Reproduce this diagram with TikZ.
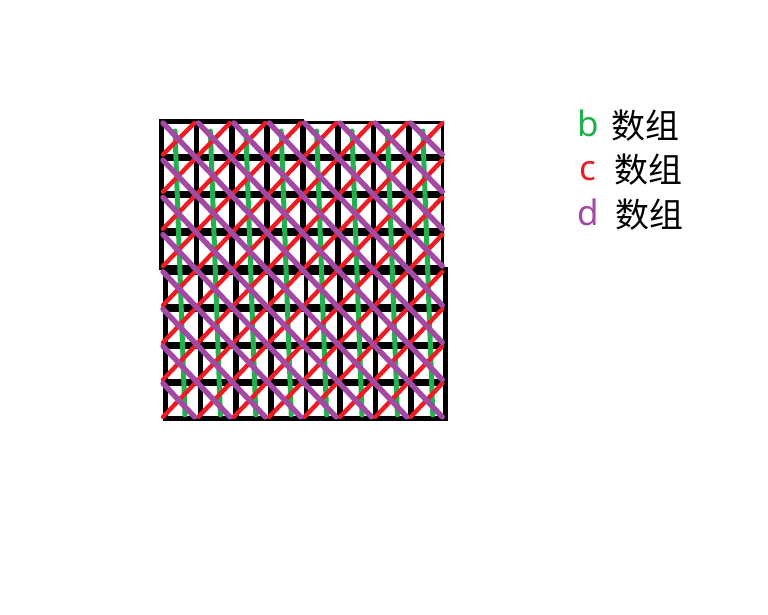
\documentclass[tikz,border=0pt]{standalone}
\usepackage{fontspec}
\newfontfamily\cjk{Noto Sans CJK SC}
\newfontfamily\lat{Noto Sans}
\definecolor{pgreen}{RGB}{34,177,76}
\definecolor{pred}{RGB}{237,28,36}
\definecolor{ppurple}{RGB}{163,73,164}
\begin{document}
\begin{tikzpicture}[x=1pt,y=-1pt,
  cellbox/.style={fill=white},
  greenline/.style={draw=pgreen,line width=5pt,line cap=round},
  redline/.style={draw=pred,line width=4.4pt,line cap=round},
  purpleline/.style={draw=ppurple,line width=5.4pt,line cap=round},
  lettertext/.style={anchor=base west,inner sep=0pt,font=\lat\fontsize{35}{35}\selectfont},
  cjktext/.style={anchor=base west,inner sep=0pt,font=\cjk\fontsize{34}{34}\selectfont,text=black}]
\useasboundingbox (0,0) rectangle (768,614);
\fill[white] (0,0) rectangle (768,614);
% black blocks of the hand-drawn grid
\fill[black] (159,119) rectangle (304,270);
\fill[black] (301,121) rectangle (444,268);
\fill[black] (163,268) rectangle (307,421);
\fill[black] (303,267) rectangle (448,421);
% white cells
\foreach \r in {0,...,7}{
  \foreach \c in {0,...,7}{
    \pgfmathsetmacro\dx{(\r>3)*(\c<4)*4+(\r>3)*(\c>3)*2}
    \pgfmathsetmacro\dy{(\r>3)*2}
    \fill[cellbox] ({164+35.4*\c+\dx},{124+37.2*\r+\dy}) rectangle ++(29.5,29.5);
  }
}
% green: columns
\foreach \c in {0,...,7}{
  \draw[greenline] ({164+35.4*\c+11},131) -- ({164+35.4*\c+21},415);
}
% red: anti-diagonals
\foreach \k in {0,...,14}{
  \pgfmathtruncatemacro\ra{min(\k,7)}
  \pgfmathtruncatemacro\ca{\k-\ra}
  \pgfmathtruncatemacro\rb{max(0,\k-7)}
  \pgfmathtruncatemacro\cb{\k-\rb}
  \pgfmathsetmacro\ya{(\ra>3)*2}
  \draw[redline] ({164+35.4*\ca-1},{124+37.2*\ra+29.5+1+\ya}) -- ({164+35.4*\cb+29.5+1},{124+37.2*\rb-1});
}
% purple: diagonals
\foreach \k in {-7,...,7}{
  \pgfmathtruncatemacro\ra{max(0,\k)}
  \pgfmathtruncatemacro\ca{\ra-\k}
  \pgfmathtruncatemacro\rb{min(7,7+\k)}
  \pgfmathtruncatemacro\cb{\rb-\k}
  \pgfmathsetmacro\yb{(\rb>3)*2}
  \draw[purpleline] ({164+35.4*\ca-1},{124+37.2*\ra-1}) -- ({164+35.4*\cb+29.5+1},{124+37.2*\rb+29.5+1+\yb});
}
% legend
\node[lettertext,text=pgreen] (lb) at (577.5,136.7) {b};
\node[cjktext] (tb) at (611,138.6) {数组};
\node[lettertext,text=pred] (lc) at (579.5,180) {c};
\node[cjktext] (tc) at (614,182.6) {数组};
\node[lettertext,text=ppurple] (ld) at (577.5,225) {d};
\node[cjktext] (td) at (615.5,227.6) {数组};
\end{tikzpicture}
\end{document}
